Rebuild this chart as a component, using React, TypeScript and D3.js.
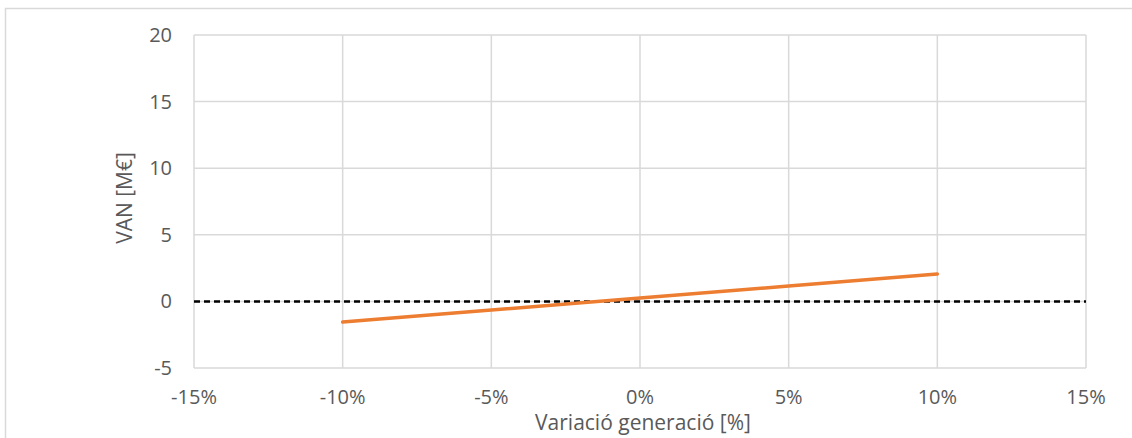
import React from "react";
import * as d3 from "d3";

const xTicks = [-15, -10, -5, 0, 5, 10, 15];
const yTicks = [-5, 0, 5, 10, 15, 20];
const variation = [-10, -5, 0, 5, 10];
const van = [-1.55, -0.65, 0.25, 1.15, 2.06];
const zeroLine = [0];

const W = 1132;
const H = 438;
const left = 194;
const right = 1086;
const top = 35;
const bottom = 368;
const font = "'Open Sans', 'Liberation Sans', sans-serif";

export default function App() {
  const x = d3.scaleLinear().domain([-15, 15]).range([left, right]);
  const y = d3.scaleLinear().domain([-5, 20]).range([bottom, top]);
  const pts = variation.map((v, i) => [v, van[i]] as [number, number]);
  const line = d3
    .line<[number, number]>()
    .x((d) => x(d[0]))
    .y((d) => y(d[1]));
  return (
    <svg
      width={W}
      height={H}
      style={{ position: "absolute", left: 0, top: 0 }}
    >
      <rect x={0} y={0} width={W} height={H} fill="#fff" />
      <path d={`M5.5,${H} V8.5 H${W}`} fill="none" stroke="#d9d9d9" strokeWidth={1.5} />
      {yTicks.map((t) => (
        <line key={"gy" + t} x1={left} x2={right} y1={y(t)} y2={y(t)} stroke="#d9d9d9" strokeWidth={1.5} />
      ))}
      {xTicks.map((t) => (
        <line key={"gx" + t} x1={x(t)} x2={x(t)} y1={top} y2={bottom} stroke="#d9d9d9" strokeWidth={1.5} />
      ))}
      {yTicks.map((t) => (
        <text key={"ty" + t} x={172} y={y(t) + 7} textAnchor="end" fontFamily={font} fontSize={20} fill="#595959">
          {t}
        </text>
      ))}
      {xTicks.map((t) => (
        <text key={"tx" + t} x={x(t)} y={404} textAnchor="middle" fontFamily={font} fontSize={20} fill="#595959">
          {t + "%"}
        </text>
      ))}
      {zeroLine.map((z) => (
        <line key="zero" x1={left} x2={right} y1={y(z)} y2={y(z)} stroke="#000" strokeWidth={2.5} strokeDasharray="6,4" />
      ))}
      <path d={line(pts) || ""} fill="none" stroke="#ed7d31" strokeWidth={3.5} strokeLinecap="round" />
      <text
        transform={`translate(132,198) rotate(-90)`}
        textAnchor="middle"
        fontFamily={font}
        fontSize={21}
        fill="#595959"
      >
        VAN [M€]
      </text>
      <text x={643} y={430} textAnchor="middle" fontFamily={font} fontSize={21} fill="#595959">
        Variació generació [%]
      </text>
    </svg>
  );
}
